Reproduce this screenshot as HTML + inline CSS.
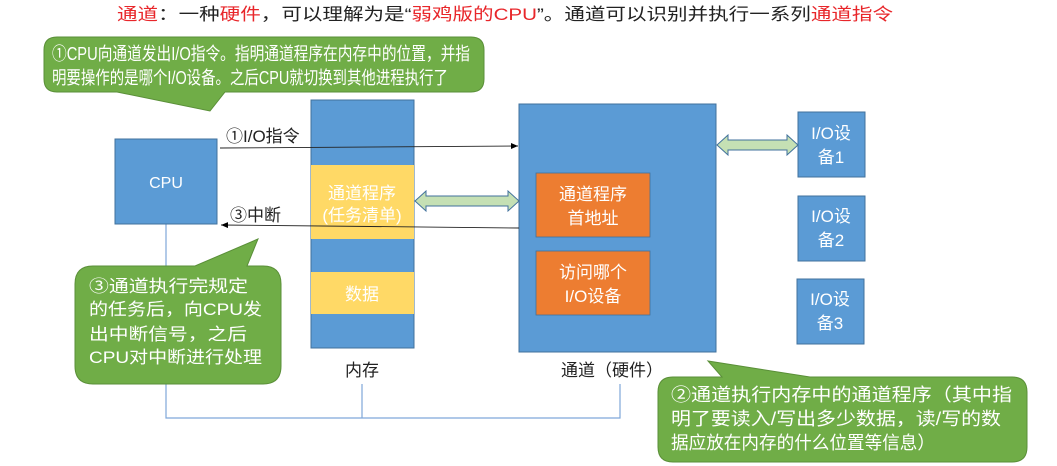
<!DOCTYPE html>
<html><head><meta charset="utf-8"><style>
html,body{margin:0;padding:0;background:#fff;}
svg{display:block;font-family:"Liberation Sans","Noto Sans CJK SC",sans-serif;}
</style></head><body>
<svg width="1057" height="466" viewBox="0 0 1057 466" xmlns="http://www.w3.org/2000/svg">
<defs>
<marker id="ah" markerWidth="8" markerHeight="8" refX="7" refY="3" orient="auto" markerUnits="userSpaceOnUse"><path d="M0,0 L7,3 L0,6 z" fill="#000"/></marker>
</defs>
<text x="117" y="20" font-size="17" fill="#222" textLength="776" lengthAdjust="spacingAndGlyphs"><tspan fill="#e8262a">通道</tspan>：一种<tspan fill="#e8262a">硬件</tspan>，可以理解为是“<tspan fill="#e8262a">弱鸡版的CPU</tspan>”。通道可以识别并执行一系列<tspan fill="#e8262a">通道指令</tspan></text>

<polyline points="166,224 166,418 620,418 620,384" fill="none" stroke="#7fa7d9" stroke-width="1.2"/>
<line x1="362" y1="384" x2="362" y2="418" stroke="#7fa7d9" stroke-width="1.2"/>

<rect x="115" y="139" width="102" height="85" fill="#5b9bd5" stroke="#41719c"/>
<text x="166" y="188" font-size="16" fill="#fff" text-anchor="middle">CPU</text>

<rect x="311" y="100" width="103" height="248" fill="#5b9bd5" stroke="#41719c"/>
<rect x="311" y="165" width="103" height="74" fill="#ffd966"/>
<text x="362" y="199" font-size="17" fill="#fff" text-anchor="middle">通道程序</text>
<text x="362" y="221" font-size="17" fill="#fff" text-anchor="middle">(任务清单)</text>
<rect x="311" y="272" width="103" height="42" fill="#ffd966"/>
<text x="362" y="300" font-size="17" fill="#fff" text-anchor="middle">数据</text>
<text x="362" y="376" font-size="17" fill="#222" text-anchor="middle">内存</text>

<rect x="519" y="104" width="197" height="248" fill="#5b9bd5" stroke="#41719c"/>
<rect x="536" y="173" width="114" height="64" fill="#ed7d31" stroke="#41719c" stroke-width="0.8"/>
<text x="593" y="200" font-size="17" fill="#fff" text-anchor="middle">通道程序</text>
<text x="593" y="224" font-size="17" fill="#fff" text-anchor="middle">首地址</text>
<rect x="536" y="251" width="114" height="64" fill="#ed7d31" stroke="#41719c" stroke-width="0.8"/>
<text x="593" y="278" font-size="17" fill="#fff" text-anchor="middle">访问哪个</text>
<text x="593" y="302" font-size="17" fill="#fff" text-anchor="middle">I/O设备</text>
<text x="612" y="376" font-size="17" fill="#222" text-anchor="middle">通道（硬件）</text>

<rect x="798" y="112" width="67" height="65" fill="#5b9bd5" stroke="#41719c"/>
<text x="831" y="139" font-size="17" fill="#fff" text-anchor="middle">I/O设</text>
<text x="831" y="163" font-size="17" fill="#fff" text-anchor="middle">备1</text>
<rect x="798" y="196" width="67" height="65" fill="#5b9bd5" stroke="#41719c"/>
<text x="831" y="222" font-size="17" fill="#fff" text-anchor="middle">I/O设</text>
<text x="831" y="246" font-size="17" fill="#fff" text-anchor="middle">备2</text>
<rect x="797" y="279" width="67" height="65" fill="#5b9bd5" stroke="#41719c"/>
<text x="830" y="305" font-size="17" fill="#fff" text-anchor="middle">I/O设</text>
<text x="830" y="329" font-size="17" fill="#fff" text-anchor="middle">备3</text>

<path d="M415,201 L426,191 L426,196 L508,196 L508,191 L519,201 L508,211 L508,206 L426,206 L426,211 Z" fill="#c5e0b4" stroke="#41719c"/>
<path d="M717,145 L728,135 L728,140 L787,140 L787,135 L798,145 L787,155 L787,150 L728,150 L728,155 Z" fill="#c5e0b4" stroke="#41719c"/>

<line x1="220" y1="148" x2="518" y2="146" stroke="#222" stroke-width="0.9" marker-end="url(#ah)"/>
<text x="226" y="142" font-size="17" fill="#222">①I/O指令</text>
<line x1="519" y1="228" x2="221" y2="225" stroke="#222" stroke-width="0.9" marker-end="url(#ah)"/>
<text x="230" y="221" font-size="17" fill="#222">③中断</text>

<path d="M57,37 L471,37 Q484,37 484,50 L484,79 Q484,92 471,92 L225,92 L210,111 L117,92 L57,92 Q44,92 44,79 L44,50 Q44,37 57,37 Z" fill="#70ad47" stroke="#5a8f38"/>
<text x="52" y="60" font-size="18" fill="#fff" textLength="418" lengthAdjust="spacingAndGlyphs">①CPU向通道发出I/O指令。指明通道程序在内存中的位置，并指</text>
<text x="52" y="84" font-size="18" fill="#fff" textLength="396" lengthAdjust="spacingAndGlyphs">明要操作的是哪个I/O设备。之后CPU就切换到其他进程执行了</text>

<path d="M93,266 L195,266 L258,239 L247,266 L263,266 Q281,266 281,284 L281,366 Q281,384 263,384 L93,384 Q75,384 75,366 L75,284 Q75,266 93,266 Z" fill="#70ad47" stroke="#5a8f38"/>
<text x="89" y="292" font-size="17" fill="#fff" textLength="159" lengthAdjust="spacingAndGlyphs">③通道执行完规定</text>
<text x="89" y="315" font-size="17" fill="#fff" textLength="173" lengthAdjust="spacingAndGlyphs">的任务后，向CPU发</text>
<text x="89" y="340" font-size="17" fill="#fff" textLength="158" lengthAdjust="spacingAndGlyphs">出中断信号，之后</text>
<text x="89" y="363" font-size="17" fill="#fff" textLength="173" lengthAdjust="spacingAndGlyphs">CPU对中断进行处理</text>

<path d="M673,377 L722,377 L708,361 L810,377 L1012,377 Q1027,377 1027,392 L1027,447 Q1027,462 1012,462 L673,462 Q658,462 658,447 L658,392 Q658,377 673,377 Z" fill="#70ad47" stroke="#5a8f38"/>
<text x="671" y="401" font-size="18" fill="#fff" textLength="341" lengthAdjust="spacingAndGlyphs">②通道执行内存中的通道程序（其中指</text>
<text x="671" y="425" font-size="18" fill="#fff" textLength="330" lengthAdjust="spacingAndGlyphs">明了要读入/写出多少数据，读/写的数</text>
<text x="671" y="449" font-size="18" fill="#fff" textLength="264" lengthAdjust="spacingAndGlyphs">据应放在内存的什么位置等信息）</text>
</svg>
</body></html>
